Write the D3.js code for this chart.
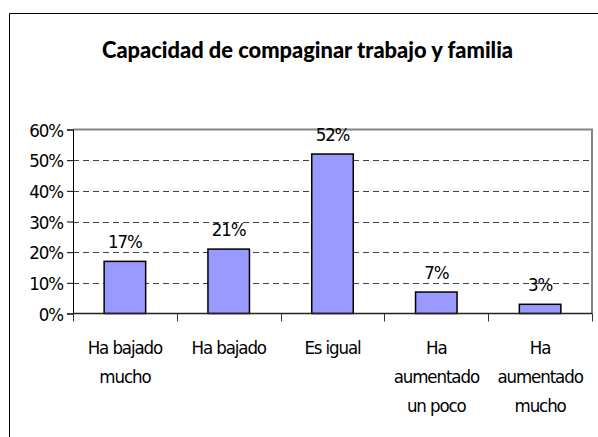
<!DOCTYPE html>
<meta charset="utf-8">
<script src="https://d3js.org/d3.v7.min.js"></script>
<style>
  body { margin: 0; background: #fff; }
  .lbl { font-family: "DejaVu Sans Condensed", "Liberation Sans Narrow", sans-serif; font-size: 18.5px; letter-spacing: -1.1px; fill: #000; }
</style>
<div id="chart"></div>
<script>

  // data
  var categories = ["Ha bajado mucho", "Ha bajado", "Es igual", "Ha aumentado un poco", "Ha aumentado mucho"];
  var categoryLines = [["Ha bajado", "mucho"], ["Ha bajado"], ["Es igual"], ["Ha", "aumentado", "un poco"], ["Ha", "aumentado", "mucho"]];
  var values = [0.17, 0.21, 0.52, 0.07, 0.03];
  var yTicks = [0, 0.1, 0.2, 0.3, 0.4, 0.5, 0.6];
  var title = "Capacidad de compaginar trabajo y familia";

  var W = 598, H = 437;
  var plot = {left: 73, right: 592, top: 129.5, bottom: 313.5};

  var svg = d3.select("#chart")
    .append("svg")
      .attr("width", W)
      .attr("height", H);

  // outer chart border (only left and top are visible)
  svg.append("path")
    .attr("d", "M9.5," + H + "V13.5H" + W)
    .attr("fill", "none")
    .attr("stroke", "#000")
    .attr("stroke-width", 1);

  // title
  svg.append("text")
    .attr("x", 307.5)
    .attr("y", 58)
    .attr("text-anchor", "middle")
    .attr("textLength", 411)
    .attr("lengthAdjust", "spacingAndGlyphs")
    .style("font-family", "Lato, 'Open Sans', sans-serif")
    .style("font-weight", "900")
    .style("font-size", "22px")
    .text(title);

  // scales
  var x = d3.scaleBand()
    .domain(categories)
    .range([plot.left, plot.right]);

  var y = d3.scaleLinear()
    .domain([0, 0.6])
    .range([plot.bottom, plot.top]);

  // dashed gridlines
  svg.append("g")
    .selectAll("line")
    .data(yTicks.filter(function(d) { return d > 0 && d < 0.6; }))
    .enter()
    .append("line")
      .attr("x1", plot.left)
      .attr("x2", plot.right)
      .attr("y1", function(d) { return Math.round(y(d)) + 0.5; })
      .attr("y2", function(d) { return Math.round(y(d)) + 0.5; })
      .attr("stroke", "#444")
      .attr("stroke-dasharray", "6,4");

  // grey frame at the top and right of the plot area
  svg.append("path")
    .attr("d", "M" + plot.left + "," + y(0.6) + "H" + plot.right + "V" + plot.bottom)
    .attr("fill", "none")
    .attr("stroke", "#858585")
    .attr("stroke-width", 2);

  // bars
  var barW = x.bandwidth() * 0.4;
  svg.append("g")
    .selectAll("rect")
    .data(values)
    .enter()
    .append("rect")
      .attr("x", function(d, i) { return x(categories[i]) + (x.bandwidth() - barW) / 2; })
      .attr("y", function(d) { return y(d); })
      .attr("width", barW)
      .attr("height", function(d) { return y(0) - y(d); })
      .attr("fill", "#9999FF")
      .attr("stroke", "#000")
      .attr("stroke-width", 1.5);

  // value labels
  svg.append("g")
    .selectAll("text")
    .data(values)
    .enter()
    .append("text")
      .attr("class", "lbl")
      .attr("x", function(d, i) { return x(categories[i]) + x.bandwidth() / 2; })
      .attr("y", function(d) { return y(d) - 13; })
      .attr("text-anchor", "middle")
      .text(function(d) { return Math.round(d * 100) + "%"; });

  // Y axis
  var yAxis = svg.append("g")
    .attr("transform", "translate(" + plot.left + ",0)")
    .call(d3.axisLeft(y).tickValues(yTicks).tickSize(6).tickPadding(4)
      .tickFormat(function(d) { return Math.round(d * 100) + "%"; }));
  yAxis.select(".domain").attr("stroke", "#000");
  yAxis.selectAll(".tick line").attr("stroke", "#000");
  yAxis.selectAll(".tick text")
    .attr("class", "lbl")
    .attr("fill", null)
    .attr("dy", "0.36em");

  // X axis: line plus ticks between categories
  var xAxis = svg.append("g");
  xAxis.append("line")
    .attr("x1", plot.left).attr("x2", plot.right)
    .attr("y1", plot.bottom).attr("y2", plot.bottom)
    .attr("stroke", "#222")
    .attr("stroke-width", 1.5);
  xAxis.selectAll(".xt")
    .data(categories.concat([null]))
    .enter()
    .append("line")
      .attr("class", "xt")
      .attr("x1", function(d) { return Math.round(d === null ? plot.right : x(d)) + 0.5; })
      .attr("x2", function(d) { return Math.round(d === null ? plot.right : x(d)) + 0.5; })
      .attr("y1", plot.bottom)
      .attr("y2", plot.bottom + 8)
      .attr("stroke", "#333");

  // category labels, several lines each
  var cat = xAxis.selectAll(".cat")
    .data(categoryLines)
    .enter()
    .append("text")
      .attr("class", "lbl")
      .attr("text-anchor", "middle")
      .attr("transform", function(d, i) {
        return "translate(" + (x(categories[i]) + x.bandwidth() / 2) + ",354)";
      });
  cat.selectAll("tspan")
    .data(function(d) { return d; })
    .enter()
    .append("tspan")
      .attr("x", 0)
      .attr("y", function(d, j) { return j * 29; })
      .text(function(d) { return d; });

</script>
